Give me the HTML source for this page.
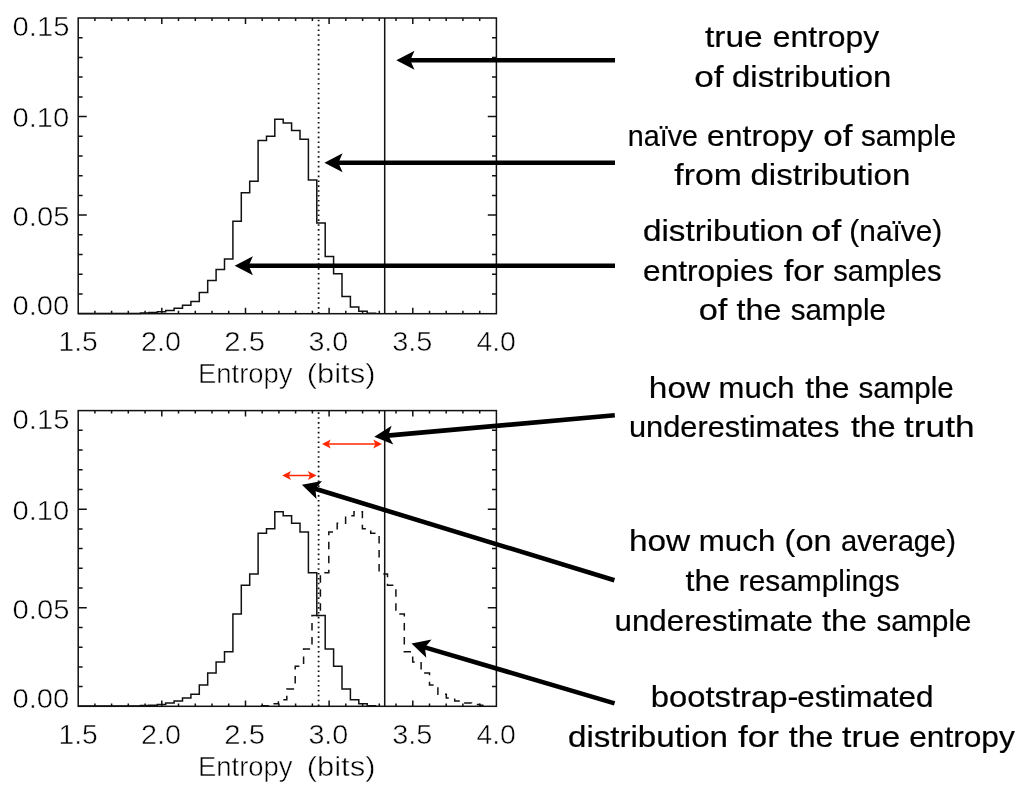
<!DOCTYPE html>
<html lang="en"><head><meta charset="utf-8"><title>Bootstrap entropy estimation</title>
<style>
html,body{margin:0;padding:0;background:#fff;}
body{width:1024px;height:793px;overflow:hidden;}
svg{display:block;}
.ax{font-family:"Liberation Sans",sans-serif;font-size:27.5px;font-kerning:none;font-variant-ligatures:none;fill:#000;stroke:#fff;stroke-width:0.5px;}
.lab{font-family:"Liberation Sans",sans-serif;font-size:29.5px;font-kerning:none;font-variant-ligatures:none;fill:#000;stroke:#000;stroke-width:0.2px;}
.ln{fill:none;stroke:#111;stroke-width:1.5;}
</style></head><body>
<svg width="1024" height="793" viewBox="0 0 1024 793">
<rect x="0" y="0" width="1024" height="793" fill="#ffffff"/>
<g id="top-plot">
<line class="ln" x1="318.6" y1="19.7" x2="318.6" y2="313.7" style="stroke-dasharray:1.6 3.27;stroke-width:1.8"/>
<line class="ln" x1="384.7" y1="18.0" x2="384.7" y2="313.7"/>
<polyline class="ln" points="78.7,313.4 140.5,313.4 140.5,313.0 148.9,313.0 148.9,312.6 157.3,312.6 157.3,311.8 165.7,311.8 165.7,310.5 174.1,310.5 174.1,308.3 182.5,308.3 182.5,305.3 190.9,305.3 190.9,301.6 199.3,301.6 199.3,292.5 207.7,292.5 207.7,280.5 216.1,280.5 216.1,269.4 224.5,269.4 224.5,259.1 232.9,259.1 232.9,221.3 241.3,221.3 241.3,192.7 249.7,192.7 249.7,181.3 258.1,181.3 258.1,140.6 266.5,140.6 266.5,136.2 274.8,136.2 274.8,119.2 283.2,119.2 283.2,123.1 291.6,123.1 291.6,130.6 300.0,130.6 300.0,139.3 308.4,139.3 308.4,180.1 316.8,180.1 316.8,223.0 325.2,223.0 325.2,256.4 333.6,256.4 333.6,273.7 342.0,273.7 342.0,296.4 350.4,296.4 350.4,307.1 358.8,307.1 358.8,311.2 367.2,311.2 367.2,313.2 375.6,313.2 375.6,313.4"/>
<rect class="ln" x="78.2" y="18.0" width="418.2" height="295.7"/>
<path class="ln" d="M94.9 313.7v-2.9M94.9 18.0v2.9M111.6 313.7v-2.9M111.6 18.0v2.9M128.3 313.7v-2.9M128.3 18.0v2.9M145.1 313.7v-2.9M145.1 18.0v2.9M161.8 313.7v-5.9M161.8 18.0v5.9M178.5 313.7v-2.9M178.5 18.0v2.9M195.3 313.7v-2.9M195.3 18.0v2.9M212.0 313.7v-2.9M212.0 18.0v2.9M228.7 313.7v-2.9M228.7 18.0v2.9M245.5 313.7v-5.9M245.5 18.0v5.9M262.2 313.7v-2.9M262.2 18.0v2.9M278.9 313.7v-2.9M278.9 18.0v2.9M295.6 313.7v-2.9M295.6 18.0v2.9M312.4 313.7v-2.9M312.4 18.0v2.9M329.1 313.7v-5.9M329.1 18.0v5.9M345.8 313.7v-2.9M345.8 18.0v2.9M362.6 313.7v-2.9M362.6 18.0v2.9M379.3 313.7v-2.9M379.3 18.0v2.9M396.0 313.7v-2.9M396.0 18.0v2.9M412.8 313.7v-5.9M412.8 18.0v5.9M429.5 313.7v-2.9M429.5 18.0v2.9M446.2 313.7v-2.9M446.2 18.0v2.9M462.9 313.7v-2.9M462.9 18.0v2.9M479.7 313.7v-2.9M479.7 18.0v2.9M78.2 294.0h4.4M496.4 294.0h-4.4M78.2 274.3h4.4M496.4 274.3h-4.4M78.2 254.6h4.4M496.4 254.6h-4.4M78.2 234.8h4.4M496.4 234.8h-4.4M78.2 215.1h8.6M496.4 215.1h-8.6M78.2 195.4h4.4M496.4 195.4h-4.4M78.2 175.7h4.4M496.4 175.7h-4.4M78.2 156.0h4.4M496.4 156.0h-4.4M78.2 136.3h4.4M496.4 136.3h-4.4M78.2 116.6h8.6M496.4 116.6h-8.6M78.2 96.9h4.4M496.4 96.9h-4.4M78.2 77.1h4.4M496.4 77.1h-4.4M78.2 57.4h4.4M496.4 57.4h-4.4M78.2 37.7h4.4M496.4 37.7h-4.4"/>
<text class="ax" x="58.44" y="351.4" textLength="39.34" lengthAdjust="spacingAndGlyphs">1.5</text>
<text class="ax" x="140.95" y="351.4" textLength="39.97" lengthAdjust="spacingAndGlyphs">2.0</text>
<text class="ax" x="224.22" y="351.4" textLength="40.81" lengthAdjust="spacingAndGlyphs">2.5</text>
<text class="ax" x="308.41" y="351.4" textLength="39.92" lengthAdjust="spacingAndGlyphs">3.0</text>
<text class="ax" x="392.20" y="351.4" textLength="40.22" lengthAdjust="spacingAndGlyphs">3.5</text>
<text class="ax" x="476.45" y="351.4" textLength="39.46" lengthAdjust="spacingAndGlyphs">4.0</text>
<text class="ax" x="12.56" y="36.3" textLength="56.87" lengthAdjust="spacingAndGlyphs">0.15</text>
<text class="ax" x="12.56" y="127.4" textLength="56.78" lengthAdjust="spacingAndGlyphs">0.10</text>
<text class="ax" x="12.56" y="225.8" textLength="56.87" lengthAdjust="spacingAndGlyphs">0.05</text>
<text class="ax" x="12.56" y="314.8" textLength="56.78" lengthAdjust="spacingAndGlyphs">0.00</text>
<text class="ax" x="197.95" y="383.4" textLength="94.61" lengthAdjust="spacingAndGlyphs">Entropy</text>
<text class="ax" x="306.68" y="383.4" textLength="68.84" lengthAdjust="spacingAndGlyphs">(bits)</text>
</g>
<g id="bottom-plot">
<line class="ln" x1="318.6" y1="412.3" x2="318.6" y2="706.3" style="stroke-dasharray:1.6 3.27;stroke-width:1.8"/>
<line class="ln" x1="384.7" y1="410.6" x2="384.7" y2="706.3"/>
<polyline class="ln" points="78.7,706.0 140.5,706.0 140.5,705.6 148.9,705.6 148.9,705.2 157.3,705.2 157.3,704.4 165.7,704.4 165.7,703.1 174.1,703.1 174.1,700.9 182.5,700.9 182.5,697.9 190.9,697.9 190.9,694.2 199.3,694.2 199.3,685.1 207.7,685.1 207.7,673.1 216.1,673.1 216.1,662.0 224.5,662.0 224.5,651.7 232.9,651.7 232.9,613.9 241.3,613.9 241.3,585.3 249.7,585.3 249.7,573.9 258.1,573.9 258.1,533.2 266.5,533.2 266.5,528.8 274.8,528.8 274.8,511.8 283.2,511.8 283.2,515.7 291.6,515.7 291.6,523.2 300.0,523.2 300.0,531.9 308.4,531.9 308.4,572.7 316.8,572.7 316.8,615.6 325.2,615.6 325.2,649.0 333.6,649.0 333.6,666.3 342.0,666.3 342.0,689.0 350.4,689.0 350.4,699.7 358.8,699.7 358.8,703.8 367.2,703.8 367.2,705.8 375.6,705.8 375.6,706.0"/>
<polyline class="ln" style="stroke-dasharray:7.5 6.5" points="261.6,706.0 261.6,705.8 270.0,705.8 270.0,703.8 278.4,703.8 278.4,699.7 286.8,699.7 286.8,689.0 295.2,689.0 295.2,666.3 303.6,666.3 303.6,649.0 312.0,649.0 312.0,615.6 320.4,615.6 320.4,572.7 328.8,572.7 328.8,531.9 337.2,531.9 337.2,523.2 345.6,523.2 345.6,515.7 354.0,515.7 354.0,511.8 362.4,511.8 362.4,528.8 370.7,528.8 370.7,533.2 379.1,533.2 379.1,573.9 387.5,573.9 387.5,585.3 395.9,585.3 395.9,613.9 404.3,613.9 404.3,651.7 412.7,651.7 412.7,662.0 421.1,662.0 421.1,673.1 429.5,673.1 429.5,685.1 437.9,685.1 437.9,694.2 446.3,694.2 446.3,697.9 454.7,697.9 454.7,700.9 463.1,700.9 463.1,703.1 471.5,703.1 471.5,704.4 479.9,704.4 479.9,705.2 488.3,705.2 488.3,705.6"/>
<rect class="ln" x="78.2" y="410.6" width="418.2" height="295.7"/>
<path class="ln" d="M94.9 706.3v-2.9M94.9 410.6v2.9M111.6 706.3v-2.9M111.6 410.6v2.9M128.3 706.3v-2.9M128.3 410.6v2.9M145.1 706.3v-2.9M145.1 410.6v2.9M161.8 706.3v-5.9M161.8 410.6v5.9M178.5 706.3v-2.9M178.5 410.6v2.9M195.3 706.3v-2.9M195.3 410.6v2.9M212.0 706.3v-2.9M212.0 410.6v2.9M228.7 706.3v-2.9M228.7 410.6v2.9M245.5 706.3v-5.9M245.5 410.6v5.9M262.2 706.3v-2.9M262.2 410.6v2.9M278.9 706.3v-2.9M278.9 410.6v2.9M295.6 706.3v-2.9M295.6 410.6v2.9M312.4 706.3v-2.9M312.4 410.6v2.9M329.1 706.3v-5.9M329.1 410.6v5.9M345.8 706.3v-2.9M345.8 410.6v2.9M362.6 706.3v-2.9M362.6 410.6v2.9M379.3 706.3v-2.9M379.3 410.6v2.9M396.0 706.3v-2.9M396.0 410.6v2.9M412.8 706.3v-5.9M412.8 410.6v5.9M429.5 706.3v-2.9M429.5 410.6v2.9M446.2 706.3v-2.9M446.2 410.6v2.9M462.9 706.3v-2.9M462.9 410.6v2.9M479.7 706.3v-2.9M479.7 410.6v2.9M78.2 686.6h4.4M496.4 686.6h-4.4M78.2 666.9h4.4M496.4 666.9h-4.4M78.2 647.2h4.4M496.4 647.2h-4.4M78.2 627.4h4.4M496.4 627.4h-4.4M78.2 607.7h8.6M496.4 607.7h-8.6M78.2 588.0h4.4M496.4 588.0h-4.4M78.2 568.3h4.4M496.4 568.3h-4.4M78.2 548.6h4.4M496.4 548.6h-4.4M78.2 528.9h4.4M496.4 528.9h-4.4M78.2 509.2h8.6M496.4 509.2h-8.6M78.2 489.5h4.4M496.4 489.5h-4.4M78.2 469.7h4.4M496.4 469.7h-4.4M78.2 450.0h4.4M496.4 450.0h-4.4M78.2 430.3h4.4M496.4 430.3h-4.4"/>
<text class="ax" x="58.44" y="744.4" textLength="39.34" lengthAdjust="spacingAndGlyphs">1.5</text>
<text class="ax" x="140.95" y="744.4" textLength="39.97" lengthAdjust="spacingAndGlyphs">2.0</text>
<text class="ax" x="224.22" y="744.4" textLength="40.81" lengthAdjust="spacingAndGlyphs">2.5</text>
<text class="ax" x="308.41" y="744.4" textLength="39.92" lengthAdjust="spacingAndGlyphs">3.0</text>
<text class="ax" x="392.20" y="744.4" textLength="40.22" lengthAdjust="spacingAndGlyphs">3.5</text>
<text class="ax" x="476.45" y="744.4" textLength="39.46" lengthAdjust="spacingAndGlyphs">4.0</text>
<text class="ax" x="12.56" y="429.3" textLength="56.87" lengthAdjust="spacingAndGlyphs">0.15</text>
<text class="ax" x="12.56" y="520.4" textLength="56.78" lengthAdjust="spacingAndGlyphs">0.10</text>
<text class="ax" x="12.56" y="618.8" textLength="56.87" lengthAdjust="spacingAndGlyphs">0.05</text>
<text class="ax" x="12.56" y="707.8" textLength="56.78" lengthAdjust="spacingAndGlyphs">0.00</text>
<text class="ax" x="197.95" y="776.4" textLength="94.61" lengthAdjust="spacingAndGlyphs">Entropy</text>
<text class="ax" x="306.68" y="776.4" textLength="68.84" lengthAdjust="spacingAndGlyphs">(bits)</text>
</g>
<g id="arrows">
<line x1="615.0" y1="60.3" x2="409.3" y2="60.3" stroke="#000" stroke-width="4.60"/><polygon fill="#000" points="396.3,60.3 414.5,50.8 410.3,60.3 414.5,69.8"/>
<line x1="615.0" y1="162.7" x2="337.4" y2="162.7" stroke="#000" stroke-width="4.60"/><polygon fill="#000" points="324.4,162.7 342.6,153.2 338.4,162.7 342.6,172.2"/>
<line x1="615.0" y1="265.7" x2="247.7" y2="265.7" stroke="#000" stroke-width="4.60"/><polygon fill="#000" points="234.7,265.7 252.9,256.2 248.7,265.7 252.9,275.2"/>
<line x1="614.8" y1="415.3" x2="387.2" y2="435.6" stroke="#000" stroke-width="4.60"/><polygon fill="#000" points="374.3,436.8 391.6,425.7 388.2,435.6 393.3,444.6"/>
<line x1="614.4" y1="580.2" x2="314.3" y2="488.5" stroke="#000" stroke-width="4.60"/><polygon fill="#000" points="301.9,484.7 322.1,480.9 315.3,488.8 316.5,499.1"/>
<line x1="614.6" y1="703.4" x2="424.0" y2="647.1" stroke="#000" stroke-width="4.60"/><polygon fill="#000" points="411.5,643.4 431.6,639.4 424.9,647.4 426.3,657.7"/>
</g>
<g id="red-arrows">
<line x1="328.1" y1="444.0" x2="375.9" y2="444.0" stroke="#ff2600" stroke-width="1.50"/><polygon fill="#ff2600" points="322.0,444.0 330.8,439.6 328.6,444.0 330.8,448.4"/><polygon fill="#ff2600" points="382.0,444.0 373.2,439.6 375.4,444.0 373.2,448.4"/>
<line x1="288.3" y1="475.5" x2="310.5" y2="475.5" stroke="#ff2600" stroke-width="1.50"/><polygon fill="#ff2600" points="282.2,475.5 291.0,471.1 288.8,475.5 291.0,479.9"/><polygon fill="#ff2600" points="316.6,475.5 307.8,471.1 310.0,475.5 307.8,479.9"/>
</g>
<g id="labels">
<text class="lab" y="47.1"><tspan x="704.99" textLength="57.80" lengthAdjust="spacingAndGlyphs">true</tspan> <tspan x="772.85" textLength="106.32" lengthAdjust="spacingAndGlyphs">entropy</tspan></text>
<text class="lab" y="86.6"><tspan x="694.32" textLength="29.33" lengthAdjust="spacingAndGlyphs">of</tspan> <tspan x="732.02" textLength="159.32" lengthAdjust="spacingAndGlyphs">distribution</tspan></text>
<text class="lab" y="145.8"><tspan x="627.79" textLength="70.28" lengthAdjust="spacingAndGlyphs">naïve</tspan> <tspan x="707.04" textLength="106.42" lengthAdjust="spacingAndGlyphs">entropy</tspan> <tspan x="823.33" textLength="29.22" lengthAdjust="spacingAndGlyphs">of</tspan> <tspan x="860.88" textLength="95.34" lengthAdjust="spacingAndGlyphs">sample</tspan></text>
<text class="lab" y="185.3"><tspan x="674.32" textLength="67.40" lengthAdjust="spacingAndGlyphs">from</tspan> <tspan x="750.41" textLength="159.94" lengthAdjust="spacingAndGlyphs">distribution</tspan></text>
<text class="lab" y="241.3"><tspan x="643.01" textLength="160.45" lengthAdjust="spacingAndGlyphs">distribution</tspan> <tspan x="811.39" textLength="29.96" lengthAdjust="spacingAndGlyphs">of</tspan> <tspan x="849.35" textLength="92.90" lengthAdjust="spacingAndGlyphs">(naïve)</tspan></text>
<text class="lab" y="280.7"><tspan x="643.05" textLength="130.29" lengthAdjust="spacingAndGlyphs">entropies</tspan> <tspan x="783.71" textLength="40.36" lengthAdjust="spacingAndGlyphs">for</tspan> <tspan x="833.19" textLength="108.26" lengthAdjust="spacingAndGlyphs">samples</tspan></text>
<text class="lab" y="320.2"><tspan x="698.76" textLength="28.59" lengthAdjust="spacingAndGlyphs">of</tspan> <tspan x="736.61" textLength="44.82" lengthAdjust="spacingAndGlyphs">the</tspan> <tspan x="790.68" textLength="95.23" lengthAdjust="spacingAndGlyphs">sample</tspan></text>
<text class="lab" y="397.5"><tspan x="648.89" textLength="61.13" lengthAdjust="spacingAndGlyphs">how</tspan> <tspan x="718.64" textLength="75.77" lengthAdjust="spacingAndGlyphs">much</tspan> <tspan x="805.22" textLength="44.40" lengthAdjust="spacingAndGlyphs">the</tspan> <tspan x="858.48" textLength="95.34" lengthAdjust="spacingAndGlyphs">sample</tspan></text>
<text class="lab" y="437.0"><tspan x="629.00" textLength="210.31" lengthAdjust="spacingAndGlyphs">underestimates</tspan> <tspan x="850.91" textLength="44.61" lengthAdjust="spacingAndGlyphs">the</tspan> <tspan x="904.07" textLength="70.52" lengthAdjust="spacingAndGlyphs">truth</tspan></text>
<text class="lab" y="551.2"><tspan x="628.99" textLength="61.13" lengthAdjust="spacingAndGlyphs">how</tspan> <tspan x="698.82" textLength="76.51" lengthAdjust="spacingAndGlyphs">much</tspan> <tspan x="784.58" textLength="47.03" lengthAdjust="spacingAndGlyphs">(on</tspan> <tspan x="840.96" textLength="115.05" lengthAdjust="spacingAndGlyphs">average)</tspan></text>
<text class="lab" y="591.1"><tspan x="685.61" textLength="44.61" lengthAdjust="spacingAndGlyphs">the</tspan> <tspan x="738.82" textLength="160.86" lengthAdjust="spacingAndGlyphs">resamplings</tspan></text>
<text class="lab" y="630.8"><tspan x="614.47" textLength="198.53" lengthAdjust="spacingAndGlyphs">underestimate</tspan> <tspan x="822.01" textLength="44.93" lengthAdjust="spacingAndGlyphs">the</tspan> <tspan x="876.58" textLength="94.72" lengthAdjust="spacingAndGlyphs">sample</tspan></text>
<text class="lab" y="707.1"><tspan x="650.89" textLength="147.47" lengthAdjust="spacingAndGlyphs">bootstrap-</tspan><tspan x="797.16" textLength="136.47" lengthAdjust="spacingAndGlyphs">estimated</tspan></text>
<text class="lab" y="746.6"><tspan x="568.01" textLength="160.04" lengthAdjust="spacingAndGlyphs">distribution</tspan> <tspan x="738.10" textLength="40.88" lengthAdjust="spacingAndGlyphs">for</tspan> <tspan x="788.71" textLength="44.72" lengthAdjust="spacingAndGlyphs">the</tspan> <tspan x="842.09" textLength="58.21" lengthAdjust="spacingAndGlyphs">true</tspan> <tspan x="909.15" textLength="105.71" lengthAdjust="spacingAndGlyphs">entropy</tspan></text>
</g>
</svg></body></html>
